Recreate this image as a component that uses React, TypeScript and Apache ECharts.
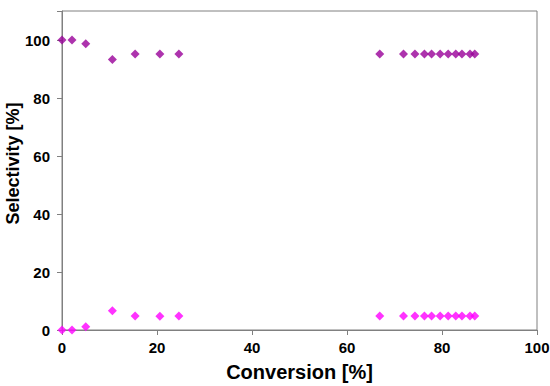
import React, { useEffect, useRef } from "react";
import * as echarts from "echarts";

const upperConversion = [0, 2.1, 5.0, 10.6, 15.4, 20.6, 24.6, 66.9, 71.9, 74.3, 76.3, 77.8, 79.6, 81.3, 82.9, 84.2, 85.9, 86.9];
const upperSelectivity = [100, 100, 98.7, 93.3, 95.2, 95.2, 95.2, 95.2, 95.2, 95.2, 95.2, 95.2, 95.2, 95.2, 95.2, 95.2, 95.2, 95.2];
const lowerConversion = [0, 2.1, 5.0, 10.6, 15.4, 20.6, 24.6, 66.9, 71.9, 74.3, 76.3, 77.8, 79.6, 81.3, 82.9, 84.2, 85.9, 86.9];
const lowerSelectivity = [0, 0, 1.1, 6.6, 4.8, 4.7, 4.8, 4.8, 4.8, 4.8, 4.8, 4.8, 4.8, 4.8, 4.8, 4.8, 4.8, 4.8];

const xTicks = [0, 20, 40, 60, 80, 100];
const yTicks = [0, 20, 40, 60, 80, 100];

export default function App() {
  const ref = useRef<HTMLDivElement>(null);
  useEffect(() => {
    if (!ref.current) return;
    const chart = echarts.init(ref.current, null, { renderer: "svg" });
    const font = "Liberation Sans, Arial, sans-serif";
    const axisColor = "#808080";
    chart.setOption({
      animation: false,
      backgroundColor: "#ffffff",
      grid: {
        left: 62,
        right: 13,
        top: 11,
        bottom: 56,
        containLabel: false,
        outerBoundsMode: "none",
        show: true,
        borderColor: axisColor,
        borderWidth: 1,
        backgroundColor: "transparent",
      },
      xAxis: {
        type: "value",
        min: 0,
        max: 100,
        interval: 20,
        name: "Conversion [%]",
        nameLocation: "middle",
        nameGap: 32,
        nameMoveOverlap: false,
        nameTextStyle: { fontFamily: font, fontWeight: "bold", fontSize: 20, color: "#000" },
        axisLine: { show: true, lineStyle: { color: axisColor, width: 1 } },
        axisTick: { show: true, length: 5, lineStyle: { color: axisColor } },
        splitLine: { show: false },
        axisLabel: {
          fontFamily: font,
          fontWeight: "bold",
          fontSize: 15,
          color: "#000",
          margin: 10,
          formatter: (v: number) => (xTicks.includes(v) ? String(v) : ""),
        },
      },
      yAxis: {
        type: "value",
        min: 0,
        max: 110,
        interval: 20,
        name: "Selectivity [%]",
        nameLocation: "middle",
        nameGap: 40,
        nameMoveOverlap: false,
        nameRotate: 90,
        nameTextStyle: {
          fontFamily: font,
          fontWeight: "bold",
          fontSize: 18,
          color: "#000",
          padding: [0, 0, 0, 14],
        },
        axisLine: { show: true, lineStyle: { color: axisColor, width: 1 } },
        axisTick: { show: true, length: 5, lineStyle: { color: axisColor } },
        splitLine: { show: false },
        axisLabel: {
          fontFamily: font,
          fontWeight: "bold",
          fontSize: 15,
          color: "#000",
          margin: 12,
          formatter: (v: number) => (yTicks.includes(v) ? String(v) : ""),
        },
      },
      series: [
        {
          type: "scatter",
          symbol: "diamond",
          symbolSize: 9,
          itemStyle: { color: "#990099" },
          data: upperConversion.map((x, i) => [x, upperSelectivity[i]]),
        },
        {
          type: "scatter",
          symbol: "diamond",
          symbolSize: 9,
          itemStyle: { color: "#ff00ff" },
          data: lowerConversion.map((x, i) => [x, lowerSelectivity[i]]),
        },
      ],
    });
    return () => chart.dispose();
  }, []);
  return <div ref={ref} style={{ width: 550, height: 386, position: "absolute", left: 0, top: 0 }} />;
}
